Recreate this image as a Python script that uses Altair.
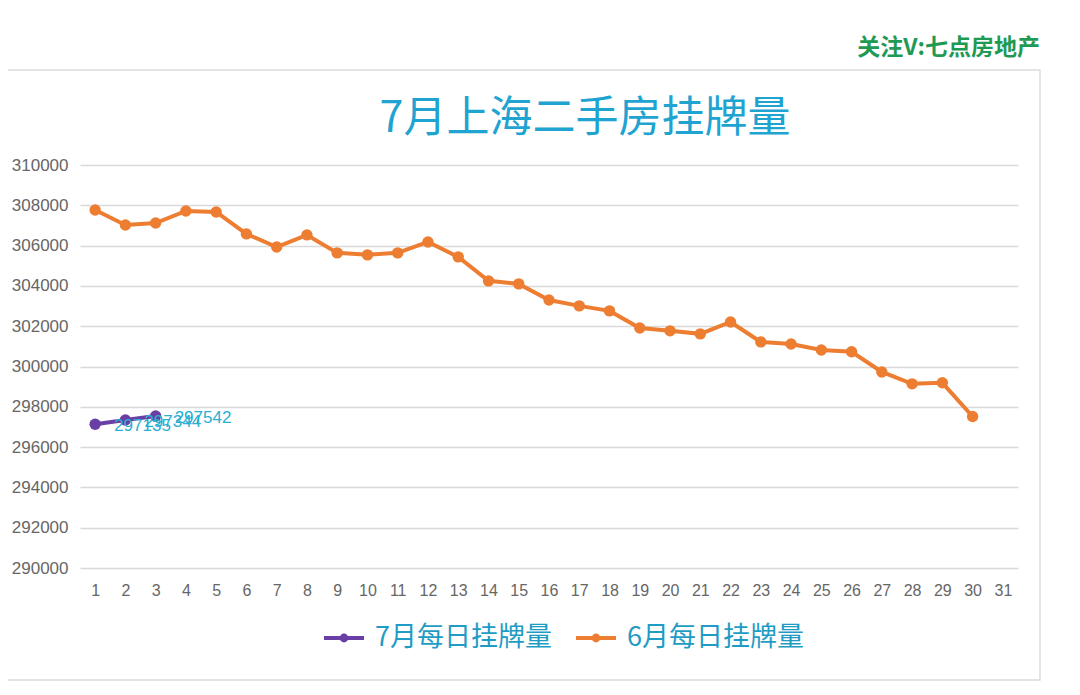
import altair as alt
import pandas as pd

days = list(range(1, 32))
june_days = list(range(1, 31))
june_values = [307770, 307020, 307120, 307720, 307670, 306580, 305930, 306530,
               305640, 305540, 305640, 306180, 305440, 304250, 304100, 303300,
               303010, 302760, 301910, 301770, 301620, 302210, 301220, 301120,
               300820, 300730, 299730, 299140, 299190, 297520]
july_days = [1, 2, 3]
july_values = [297135, 297344, 297542]
series_names = ["7月每日挂牌量", "6月每日挂牌量"]
series_colors = ["#6a3fa5", "#ed7d31"]
y_ticks = list(range(290000, 310001, 2000))
title_text = ["7月上海二手房挂牌量"]
watermark_text = ["关注V:七点房地产"]

rows = []
for d, v in zip(july_days, july_values):
    rows.append({"day": d, "value": v, "series": series_names[0]})
for d, v in zip(june_days, june_values):
    rows.append({"day": d, "value": v, "series": series_names[1]})
df = pd.DataFrame(rows)
july_df = df[df["series"] == series_names[0]]

FONT = "Noto Sans CJK SC"
NUMFONT = "Liberation Sans"

x_scale = alt.Scale(domain=days, padding=0.5)
y_scale = alt.Scale(domain=[290000, 310000], nice=False, zero=False)

x_enc = alt.X("day:O", scale=x_scale,
              axis=alt.Axis(title=None, labelAngle=0, domain=False, ticks=False,
                            labelFont=NUMFONT, labelFontSize=16, labelColor="#666666",
                            labelPadding=14, grid=False))
y_enc = alt.Y("value:Q", scale=y_scale,
              axis=alt.Axis(title=None, values=y_ticks, domain=False, ticks=False,
                            labelFont=NUMFONT, labelFontSize=17, labelColor="#666666",
                            labelPadding=12, gridColor="#d9d9d9", gridWidth=1.5, format="d"))

lines = alt.Chart(df).mark_line(
    strokeWidth=4,
    point=alt.OverlayMarkDef(filled=True, size=130)
).encode(
    x=x_enc,
    y=y_enc,
    color=alt.Color("series:N", scale=alt.Scale(domain=series_names, range=series_colors),
                    sort=series_names,
                    legend=alt.Legend(title=None, orient="none", direction="horizontal",
                                      legendX=242, legendY=451,
                                      symbolType="M-1,0H1M0.12,0A0.12,0.12 0 1,1 -0.12,0A0.12,0.12 0 1,1 0.12,0Z",
                                      symbolSize=1600, symbolStrokeWidth=4,
                                      labelFont=FONT, labelFontSize=27, labelColor="#1f9cc4",
                                      labelLimit=300, columnPadding=16, labelOffset=9)),
    order="day:Q",
)

labels = alt.Chart(july_df).mark_text(
    align="left", baseline="middle", dx=19, dy=2, font=NUMFONT, fontSize=17, color="#2aaed2"
).encode(x=alt.X("day:O", scale=x_scale),
         y=alt.Y("value:Q", scale=y_scale),
         text=alt.Text("value:Q", format="d"))

title = alt.Chart(pd.DataFrame({"t": title_text})).mark_text(
    align="center", baseline="middle", font=FONT, fontSize=43, color="#1fa3d0"
).encode(x=alt.value(505), y=alt.value(-46), text="t:N")

watermark = alt.Chart(pd.DataFrame({"t": watermark_text})).mark_text(
    align="right", baseline="middle", font=FONT, fontSize=23, fontWeight="bold", color="#1f9a55"
).encode(x=alt.value(960), y=alt.value(-117), text="t:N")

frame = alt.Chart(pd.DataFrame({"t": watermark_text})).mark_rect(
    fill=None, stroke="#dcdcdc", strokeWidth=1.5
).encode(x=alt.value(-90), x2=alt.value(960), y=alt.value(-95), y2=alt.value(515))

chart = alt.layer(frame, lines, labels, title, watermark).properties(
    width=938, height=403,
    padding={"left": 72, "top": 157, "right": 40, "bottom": 115},
    autosize=alt.AutoSizeParams(type="none"),
    background="white",
).configure_view(stroke=None)

chart.save("out.html", embed_options={"renderer": "svg", "actions": False})
